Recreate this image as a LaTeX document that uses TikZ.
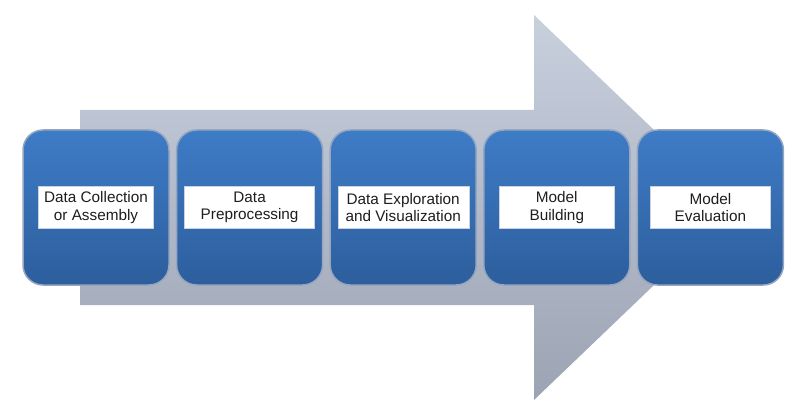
\documentclass[tikz,border=0pt]{standalone}
\usepackage{fontspec}
\setmainfont{Liberation Sans}
\usetikzlibrary{calc}
\newcommand{\bw}{146}
\newcommand{\bh}{155}
\definecolor{arrowtop}{RGB}{200,208,222}
\definecolor{arrowbot}{RGB}{156,164,180}
\definecolor{boxtop}{RGB}{62,124,198}
\definecolor{boxmid}{RGB}{54,110,180}
\definecolor{boxbot}{RGB}{45,94,157}
\definecolor{boxrim}{RGB}{150,166,192}
\definecolor{labeltext}{RGB}{30,30,30}

\begin{document}
\begin{tikzpicture}[x=1pt,y=-1pt,
  stage/.style={rounded corners=20pt,minimum width=\bw pt,minimum height=\bh pt,
    top color=boxtop,middle color=boxmid,bottom color=boxbot,draw=boxrim,line width=1.5pt},
  tag/.style={fill=white,draw=boxrim!50,line width=0.4pt,align=center,text=labeltext,
    minimum height=42pt,inner sep=0pt,font=\fontsize{15.3}{17.5}\selectfont}]
\useasboundingbox (0,0) rectangle (800,409);
% big arrow behind the stages
\coordinate (s1) at (80,110);
\coordinate (s2) at (534,110);
\coordinate (h1) at (534,15);
\coordinate (tip) at (735,207.5);
\coordinate (h2) at (534,400);
\coordinate (s3) at (534,305);
\coordinate (s4) at (80,305);
\shade[top color=arrowtop,bottom color=arrowbot] (s1)--(s2)--(h1)--(tip)--(h2)--(s3)--(s4)--cycle;

% stages
\foreach \i/\x/\w/\t in {1/96/115/{Data Collection\\or Assembly},
  2/249.6/130/{Data\\Preprocessing},
  3/403.2/131/{Data Exploration\\and Visualization},
  4/556.8/115/{Model\\Building},
  5/710.4/120/{Model\\Evaluation}}{
\node[stage] (box\i) at (\x,207.5) {};
\node[tag,minimum width=\w pt] (tag\i) at (box\i) {\t};
}
\end{tikzpicture}
\end{document}
